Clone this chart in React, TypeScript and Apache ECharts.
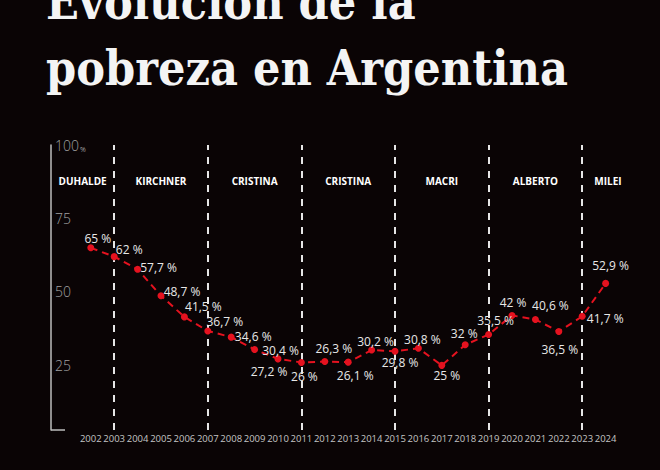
import React, { useEffect, useRef } from 'react';
import * as echarts from 'echarts';

const TITLE_LINES = ['Evolución de la', 'pobreza en Argentina'];
const YEARS = [2002, 2003, 2004, 2005, 2006, 2007, 2008, 2009, 2010, 2011, 2012, 2013, 2014, 2015, 2016, 2017, 2018, 2019, 2020, 2021, 2022, 2023, 2024];
const POVERTY = [65, 62, 57.7, 48.7, 41.5, 36.7, 34.6, 30.4, 27.2, 26, 26.3, 26.1, 30.2, 29.8, 30.8, 25, 32, 35.5, 42, 40.6, 36.5, 41.7, 52.9];
const Y_TICKS = [25, 50, 75, 100];
const TERM_NAMES = ['DUHALDE', 'KIRCHNER', 'CRISTINA', 'CRISTINA', 'MACRI', 'ALBERTO', 'MILEI'];
const TERM_BOUNDS = [2003, 2007, 2011, 2015, 2019, 2023];

// axis extents (styling / layout)
const X_MIN = 2000.3;
const X_MAX = 2025.2;
const Y_MIN = 3;
const Y_MAX = 100;

const RED = '#e5121f';
// label placement (offset of label centre from its point), styling only
const LABEL_OFFSETS = [
  [7, -9], [15, -7], [21, -2], [21, -4], [19, -10], [17, -9], [22, -1], [26, 1],
  [-9, 13], [3, 14], [9, -13], [7, 13], [4, -9], [5, 11], [4, -9], [5, 10],
  [-1, -11], [7, -14], [1, -13], [15, -14], [1, 18], [23, 2], [5, -18],
];

export default function App() {
  const ref = useRef<HTMLDivElement>(null);
  useEffect(() => {
    const chart = echarts.init(ref.current as HTMLDivElement, null, { renderer: 'svg' });
    const edges = [X_MIN, ...TERM_BOUNDS, X_MAX];
    const fmt = (v: number) => String(v).replace('.', ',') + ' %';
    chart.setOption({
      animation: false,
      backgroundColor: '#0a0405',
      textStyle: { fontFamily: "'Open Sans', sans-serif" },
      grid: { left: 51, right: 26.3, top: 145, bottom: 40 },
      xAxis: {
        type: 'value',
        min: X_MIN,
        max: X_MAX,
        axisLine: { show: false },
        axisTick: { show: false },
        splitLine: { show: false },
        axisLabel: {
          customValues: YEARS,
          formatter: (v: number) => String(v),
          color: '#c4c4c4',
          fontSize: 9.5,
          margin: 3,
        },
      },
      yAxis: {
        type: 'value',
        min: Y_MIN,
        max: Y_MAX,
        axisLine: { show: true, lineStyle: { color: '#bcbcbc', width: 1.5 } },
        axisTick: { show: false },
        splitLine: { show: false },
        axisLabel: {
          inside: true,
          margin: 4,
          customValues: Y_TICKS,
          formatter: (v: number) => (v === 100 ? '{n|100}{p|%}' : '{n|' + v + '}'),
          rich: {
            n: { fontSize: 14, color: '#a0a0a0', fontFamily: "'Open Sans', sans-serif", fontWeight: 300 },
            p: { fontSize: 7, color: '#a0a0a0', verticalAlign: 'bottom', padding: [8, 0, 0, 1] },
          },
        },
      },
      graphic: [
        {
          type: 'text',
          x: 46,
          y: -22,
          style: {
            text: TITLE_LINES[0],
            fill: '#f4f4f4',
            fontFamily: "'DejaVu Serif Condensed', 'DejaVu Serif', serif",
            fontWeight: 'bold',
            fontSize: 48,
            verticalAlign: 'top',
          },
        },
        {
          type: 'text',
          x: 46,
          y: 44,
          style: {
            text: TITLE_LINES[1],
            fill: '#f4f4f4',
            fontFamily: "'DejaVu Serif Condensed', 'DejaVu Serif', serif",
            fontWeight: 'bold',
            fontSize: 48,
            verticalAlign: 'top',
          },
        },
        {
          type: 'line',
          shape: { x1: 51, y1: 430, x2: 65, y2: 430 },
          style: { stroke: '#bcbcbc', lineWidth: 1.5 },
        },
      ],
      series: [
        {
          type: 'line',
          data: [],
          z: 1,
          markLine: {
            silent: true,
            symbol: 'none',
            label: { show: false },
            lineStyle: { color: '#e6e6e6', width: 2, type: [7, 7] },
            data: TERM_BOUNDS.map((b) => ({ xAxis: b })),
          },
          markArea: {
            silent: true,
            itemStyle: { color: 'rgba(0,0,0,0)' },
            label: {
              show: true,
              position: 'insideTop',
              distance: 31,
              color: '#ffffff',
              fontWeight: 'bold',
              fontSize: 10,
              fontFamily: "'Open Sans', sans-serif",
            },
            data: TERM_NAMES.map((n, i) => [{ name: n, xAxis: edges[i] }, { xAxis: edges[i + 1] }]),
          },
        },
        {
          type: 'line',
          z: 5,
          data: YEARS.map((y, i) => ({ value: [y, POVERTY[i]], label: { offset: LABEL_OFFSETS[i] } })),
          symbol: 'circle',
          symbolSize: 7,
          itemStyle: { color: RED },
          lineStyle: { color: RED, width: 2, type: [7, 5] },
          label: {
            show: true,
            position: 'inside',
            formatter: (p: any) => fmt(p.value[1]),
            color: '#e8e8e8',
            fontSize: 12,
          },
        },
      ],
    });
    return () => chart.dispose();
  }, []);
  return <div ref={ref} style={{ position: 'fixed', left: 0, top: 0, width: 660, height: 470 }} />;
}
